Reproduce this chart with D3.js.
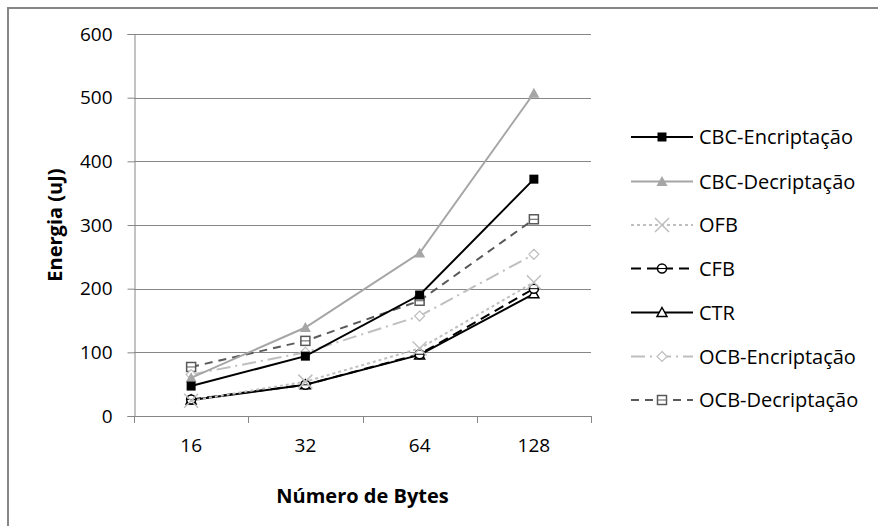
<!DOCTYPE html>
<html><head><meta charset="utf-8">
<script src="https://cdn.jsdelivr.net/npm/d3@7"></script>
<style>body{margin:0;background:#fff}svg{display:block}text{font-family:"Open Sans","Noto Sans",sans-serif;fill:#000}</style>
</head><body>
<svg id="c" width="878" height="526"></svg>
<script>
const categories = ["16","32","64","128"];
const yTicks = [0,100,200,300,400,500,600];
const seriesNames = ["CBC-Encriptação","CBC-Decriptação","OFB","CFB","CTR","OCB-Encriptação","OCB-Decriptação"];
const cbcEnc = [47, 94, 190, 372];
const cbcDec = [60, 139, 256, 507];
const ofb    = [24, 54, 106, 210];
const cfb    = [26, 49, 97, 200];
const ctr    = [25, 49, 96, 192];
const ocbEnc = [65, 100, 157, 254];
const ocbDec = [77, 118, 181, 309];
const values = [cbcEnc, cbcDec, ofb, cfb, ctr, ocbEnc, ocbDec];

(function(){
const styles = [
  {color:"#000", width:2, dash:null, marker:"squareFill"},
  {color:"#A6A6A6", width:2, dash:null, marker:"triFill"},
  {color:"#BFBFBF", width:2, dash:"3,3", marker:"x"},
  {color:"#000", width:2, dash:"10,6", marker:"circle"},
  {color:"#000", width:2, dash:null, marker:"triOpen"},
  {color:"#BFBFBF", width:2, dash:"14,5,2,5", marker:"diamond"},
  {color:"#595959", width:2, dash:"8,6", marker:"squareOpen"}
];

const svg = d3.select("#c");
svg.append("path").attr("d","M8,526 V8 H878").attr("fill","none").attr("stroke","#868686").attr("stroke-width",2);

const pL=134, pR=591, pT=34, pB=416;
const x = d3.scaleBand().domain(categories).range([pL,pR]);
const y = d3.scaleLinear().domain([0,600]).range([pB,pT]);

svg.append("g").selectAll("line").data(yTicks).join("line")
  .attr("x1",pL).attr("x2",pR).attr("y1",d=>Math.round(y(d))+0.5).attr("y2",d=>Math.round(y(d))+0.5)
  .attr("stroke","#868686").attr("stroke-width",1);

const ya = svg.append("g").attr("transform",`translate(${pL+0.5},0)`)
  .call(d3.axisLeft(y).tickValues(yTicks).tickSize(7).tickPadding(15));
ya.select(".domain").attr("stroke","#868686");
ya.selectAll(".tick line").attr("stroke","#868686");
ya.selectAll("text").attr("font-size",19).attr("font-family","'Open Sans','Noto Sans',sans-serif").attr("fill","#000");

const xa = svg.append("g").attr("transform",`translate(0,${pB+0.5})`)
  .call(d3.axisBottom(x).tickSize(0).tickPadding(22));
xa.select(".domain").attr("stroke","#868686").attr("d",`M${pL},0H${pR}`);
xa.selectAll("text").attr("font-size",19).attr("font-family","'Open Sans','Noto Sans',sans-serif").attr("fill","#000");
const bounds = categories.map(c=>x(c)).concat([pR]);
svg.append("g").selectAll("line").data(bounds).join("line")
  .attr("x1",d=>Math.round(d)+0.5).attr("x2",d=>Math.round(d)+0.5)
  .attr("y1",pB).attr("y2",pB+7).attr("stroke","#868686");

svg.append("text").attr("x",(pL+pR)/2).attr("y",503).attr("text-anchor","middle")
  .attr("font-size",20).attr("font-weight","bold").text("Número de Bytes");
svg.append("text").attr("transform",`translate(62,${(pT+pB)/2}) rotate(-90)`).attr("text-anchor","middle")
  .attr("font-size",20).attr("font-weight","bold").text("Energia (uJ)");

function drawMarker(g, type, color, cx, cy){
  const s = 4.5;
  if(type==="squareFill"){
    g.append("rect").attr("x",cx-s).attr("y",cy-s).attr("width",2*s).attr("height",2*s).attr("fill",color);
  } else if(type==="triFill"){
    g.append("path").attr("d",`M${cx},${cy-5.5}L${cx+5.5},${cy+4.5}L${cx-5.5},${cy+4.5}Z`).attr("fill",color);
  } else if(type==="x"){
    g.append("path").attr("d",`M${cx-7},${cy-7}L${cx+7},${cy+7}M${cx+7},${cy-7}L${cx-7},${cy+7}`).attr("stroke",color).attr("stroke-width",1.5);
  } else if(type==="circle"){
    g.append("circle").attr("cx",cx).attr("cy",cy).attr("r",4.5).attr("fill","#fff").attr("stroke",color).attr("stroke-width",1.5);
    g.append("line").attr("x1",cx-4.5).attr("x2",cx+4.5).attr("y1",cy).attr("y2",cy).attr("stroke",color).attr("stroke-width",1);
  } else if(type==="triOpen"){
    g.append("path").attr("d",`M${cx},${cy-5}L${cx+5},${cy+4}L${cx-5},${cy+4}Z`).attr("fill","#fff").attr("stroke",color).attr("stroke-width",1.5);
  } else if(type==="diamond"){
    g.append("path").attr("d",`M${cx},${cy-5}L${cx+5},${cy}L${cx},${cy+5}L${cx-5},${cy}Z`).attr("fill","#fff").attr("stroke",color).attr("stroke-width",1.2);
  } else if(type==="squareOpen"){
    g.append("rect").attr("x",cx-4.5).attr("y",cy-4.5).attr("width",9).attr("height",9).attr("fill","#fff").attr("stroke",color).attr("stroke-width",1.5);
    g.append("line").attr("x1",cx-4.5).attr("x2",cx+4.5).attr("y1",cy).attr("y2",cy).attr("stroke",color).attr("stroke-width",1);
  }
}

const line = d3.line().x((d,i)=>x(categories[i])+x.bandwidth()/2).y(d=>y(d));
const plot = svg.append("g");
for(let k=values.length-1;k>=0;k--){
  const st = styles[k];
  plot.append("path").datum(values[k]).attr("d",line).attr("fill","none")
    .attr("stroke",st.color).attr("stroke-width",st.width).attr("stroke-dasharray",st.dash);
  values[k].forEach((v,i)=>drawMarker(plot, st.marker, st.color, x(categories[i])+x.bandwidth()/2, y(v)));
}

const legY = [137, 181.5, 225, 268.5, 312.5, 356.5, 400];
const lg = svg.append("g");
seriesNames.forEach((name,k)=>{
  const st = styles[k], cy = legY[k];
  lg.append("line").attr("x1",631).attr("x2",693).attr("y1",cy).attr("y2",cy)
    .attr("stroke",st.color).attr("stroke-width",st.width).attr("stroke-dasharray",st.dash);
  drawMarker(lg, st.marker, st.color, 662, cy);
  lg.append("text").attr("x",699).attr("y",cy).attr("dy","0.35em").attr("font-size",20).text(name);
});
})();
</script>
</body></html>
